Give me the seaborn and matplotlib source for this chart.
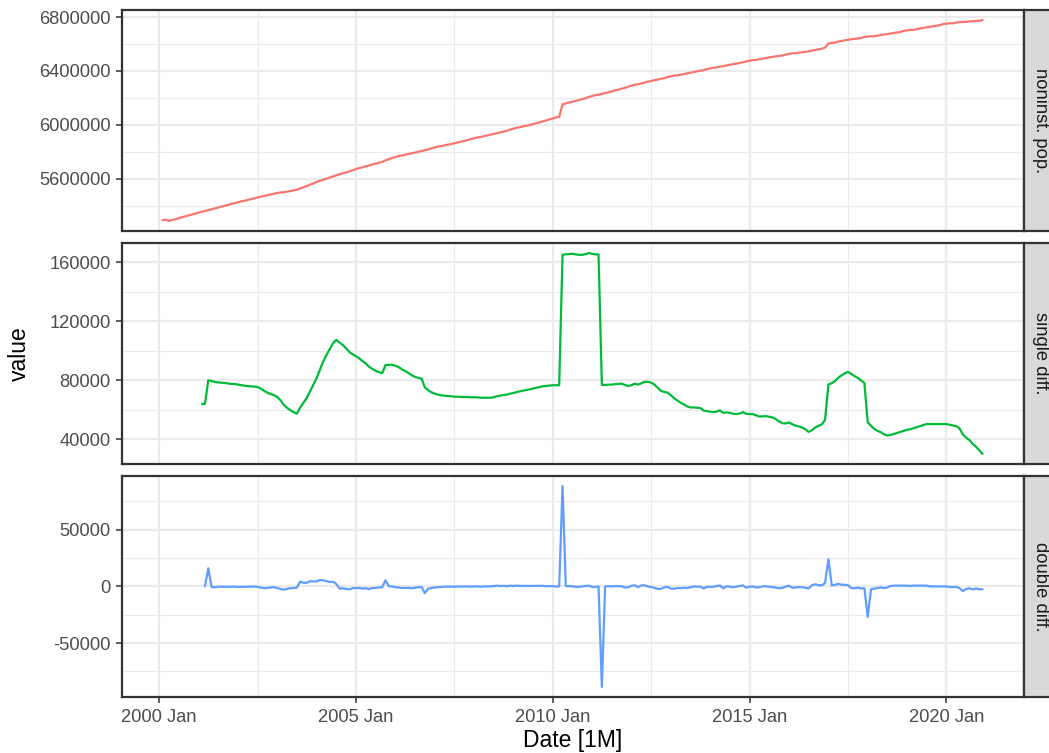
import numpy as np
import pandas as pd
import matplotlib
matplotlib.use("Agg")
import matplotlib.pyplot as plt
import matplotlib.dates as mdates
from matplotlib.patches import Rectangle
from matplotlib.ticker import FixedLocator, NullFormatter
import seaborn as sns

# ---------------- data ----------------
# noninstitutional population, 2000 Feb .. 2001 Jan
pop_first_year = [5290500, 5295000, 5285500, 5292500, 5299400, 5306300,
                  5313300, 5320200, 5327100, 5334100, 5341000, 5348000]

# 12-month ("single") differences, 2001 Feb .. 2020 Dec
d2001 = [63800, 64000, 80000, 79500, 78800, 78500, 78300, 78100, 77800, 77500, 77400]
d2002 = [77000, 76600, 76300, 76000, 75800, 75700, 75400, 74300, 72800, 71500, 70600, 69900]
d2003 = [68600, 66300, 63400, 61300, 59700, 58300, 57200, 61400, 64700, 67900, 72500, 77000]
d2004 = [81400, 87100, 92500, 97100, 101000, 105100, 107400, 105500, 103900, 101700, 99100, 97600]
d2005 = [96200, 94800, 93000, 91400, 89100, 87700, 86400, 85500, 84800, 90300, 90500, 90500]
d2006 = [89800, 88900, 87500, 86200, 85000, 83400, 82300, 81600, 81100, 75200, 73200, 71800]
d2007 = [70900, 70200, 69700, 69500, 69300, 69100, 68800, 68800, 68600, 68600, 68600, 68400]
d2008 = [68400, 68400, 68100, 68100, 68100, 68100, 68400, 69100, 69500, 70000, 70200, 70900]
d2009 = [71300, 72000, 72500, 72900, 73400, 73800, 74300, 74800, 75400, 75900, 76100, 76400]
d2010 = [76600, 76600, 76600, 165200, 165500, 165700, 165900, 165500, 165200, 165200, 165700, 166400]
d2011 = [165900, 165500, 165500, 76800, 76800, 77000, 77000, 77300, 77500, 77700, 76800, 76100]
d2012 = [76600, 77700, 77000, 77900, 78900, 78900, 78400, 77000, 74800, 72700, 72000, 71600]
d2013 = [69700, 67700, 66300, 64700, 63600, 62200, 61500, 61500, 61300, 61100, 59300, 59000]
d2014 = [58600, 58300, 58700, 59500, 57900, 58100, 57900, 57200, 57000, 57400, 58300, 57200]
d2015 = [57000, 57000, 56100, 55400, 55400, 55600, 55200, 54700, 53600, 52000, 50800, 50600]
d2016 = [51300, 50100, 49200, 48600, 47900, 46700, 44900, 46000, 47900, 49000, 50000, 53000]
d2017 = [77000, 78000, 79300, 81600, 83200, 84600, 85700, 84300, 82700, 81600, 79800, 78200]
d2018 = [51300, 49000, 47000, 45600, 44700, 43300, 42400, 42800, 43500, 44200, 44900, 45600]
d2019 = [46300, 46700, 47400, 48100, 48800, 49500, 50200, 50200, 50200, 50200, 50200, 50200]
d2020 = [50200, 49700, 49200, 48800, 47400, 43300, 41000, 39400, 36700, 34900, 32400, 29900]

series_names = ["noninst. pop.", "single diff.", "double diff."]
series_colors = ["#F8766D", "#00BA38", "#619CFF"]

x_tick_dates = ["2000-01-01", "2005-01-01", "2010-01-01", "2015-01-01", "2020-01-01"]
x_tick_labels = ["2000 Jan", "2005 Jan", "2010 Jan", "2015 Jan", "2020 Jan"]
x_minor_dates = ["2002-07-02", "2007-07-02", "2012-07-02", "2017-07-02"]

y_major = [[5600000, 6000000, 6400000, 6800000],
           [40000, 80000, 120000, 160000],
           [-50000, 0, 50000]]
y_minor = [[5400000, 5800000, 6200000, 6600000],
           [60000, 100000, 140000],
           [-75000, -25000, 25000, 75000]]

# ---------------- assemble series ----------------
single = np.array(d2001 + d2002 + d2003 + d2004 + d2005 + d2006 + d2007 + d2008 +
                  d2009 + d2010 + d2011 + d2012 + d2013 + d2014 + d2015 + d2016 +
                  d2017 + d2018 + d2019 + d2020, dtype=float)
n_level = len(single) + 12
level = np.empty(n_level)
level[:12] = pop_first_year
for i in range(12, n_level):
    level[i] = level[i - 12] + single[i - 12]
double = np.diff(single)

dates = pd.date_range("2000-02-01", periods=n_level, freq="MS")
frames = [
    pd.DataFrame({"date": dates, "value": level, "key": series_names[0]}),
    pd.DataFrame({"date": dates[12:], "value": single, "key": series_names[1]}),
    pd.DataFrame({"date": dates[13:], "value": double, "key": series_names[2]}),
]
df = pd.concat(frames, ignore_index=True)

# ---------------- figure ----------------
sns.set_style("white")
plt.rcParams["font.family"] = ["Liberation Sans", "DejaVu Sans"]

W, H = 1049, 753
fig = plt.figure(figsize=(W / 100, H / 100), dpi=100)

left_px, right_px = 121.5, 1023.5
panel_tops = [10, 243, 476]
panel_h = 221

GRID = "#EBEBEB"
DARK = "#333333"

xmin = mdates.date2num(dates[0])
xmax = mdates.date2num(dates[-1])
xpad = 0.05 * (xmax - xmin)

axes = []
for i, name in enumerate(series_names):
    top = panel_tops[i]
    ax = fig.add_axes([left_px / W, 1 - (top + panel_h) / H,
                       (right_px - left_px) / W, panel_h / H])
    sub = df[df["key"] == name]
    sns.lineplot(data=sub, x="date", y="value", color=series_colors[i],
                 linewidth=1.6, ax=ax, legend=False)
    ax.set_xlim(xmin - xpad, xmax + xpad)
    vmin, vmax = sub["value"].min(), sub["value"].max()
    ypad = 0.05 * (vmax - vmin)
    ax.set_ylim(vmin - ypad, vmax + ypad)

    ax.set_facecolor("white")
    ax.xaxis.set_major_locator(FixedLocator(mdates.date2num(pd.to_datetime(x_tick_dates))))
    ax.xaxis.set_minor_locator(FixedLocator(mdates.date2num(pd.to_datetime(x_minor_dates))))
    ax.yaxis.set_major_locator(FixedLocator(y_major[i]))
    ax.yaxis.set_minor_locator(FixedLocator(y_minor[i]))
    ax.set_yticklabels([str(v) for v in y_major[i]])
    ax.yaxis.set_minor_formatter(NullFormatter())
    ax.xaxis.set_minor_formatter(NullFormatter())

    ax.grid(which="major", color=GRID, linewidth=1.6)
    ax.grid(which="minor", color=GRID, linewidth=0.8)
    ax.set_axisbelow(True)

    for sp in ax.spines.values():
        sp.set_color(DARK)
        sp.set_linewidth(1.6)
        sp.set_visible(True)

    ax.tick_params(axis="y", which="major", length=4, width=1.1, color=DARK,
                   labelsize=13.2, labelcolor="#4D4D4D", pad=4, left=True)
    ax.tick_params(which="minor", length=0)
    if i == 2:
        ax.set_xticklabels(x_tick_labels)
        ax.tick_params(axis="x", which="major", length=4, width=1.1, color=DARK,
                       labelsize=13.2, labelcolor="#4D4D4D", pad=4.5, bottom=True)
    else:
        ax.tick_params(axis="x", which="major", length=0, labelbottom=False)
    ax.set_xlabel("")
    ax.set_ylabel("")

    # facet strip on the right
    strip = Rectangle(((right_px + 0.5) / W, 1 - (top + panel_h) / H),
                      36 / W, panel_h / H, transform=fig.transFigure,
                      facecolor="#D9D9D9", edgecolor=DARK, linewidth=1.6,
                      clip_on=False)
    fig.patches.append(strip)
    fig.text(1040.5 / W, 1 - (top + panel_h / 2) / H, name, rotation=270,
             ha="center", va="center", fontsize=13.2, color="#1A1A1A")
    axes.append(ax)

fig.text(19 / W, 1 - 353.5 / H, "value", rotation=90, ha="center", va="center",
         fontsize=16.5, color="black")
fig.text((left_px + right_px) / 2 / W, 1 - 740 / H, "Date [1M]", ha="center",
         va="center", fontsize=16.5, color="black")

fig.savefig("out.png", dpi=100, facecolor="white")
